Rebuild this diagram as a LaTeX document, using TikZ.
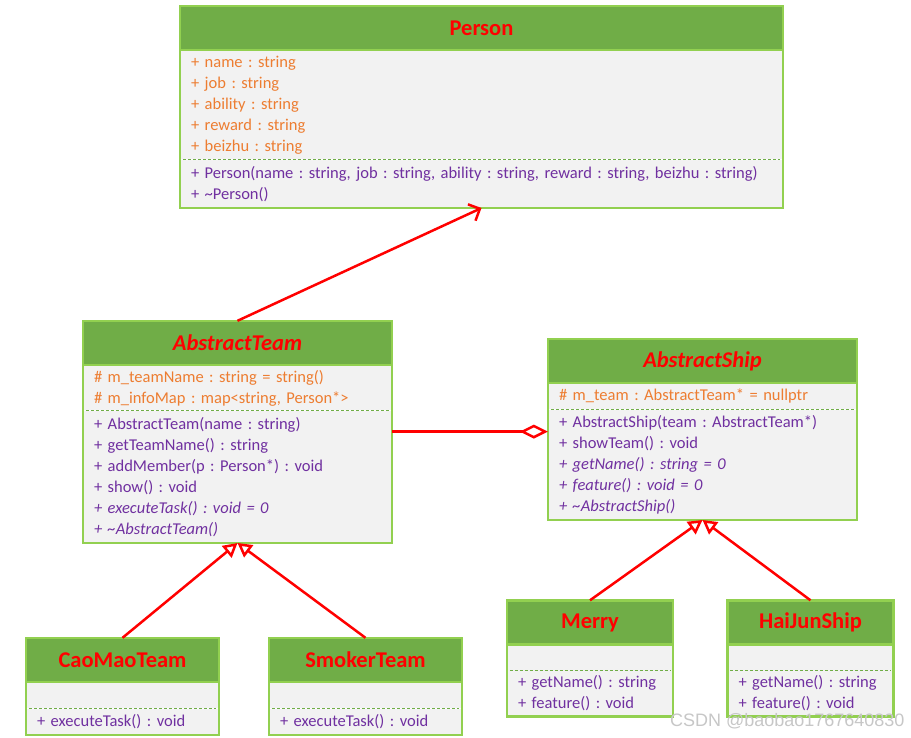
\documentclass[tikz,border=0pt]{standalone}
\usepackage{fontspec}
\setmainfont{Carlito}
\newfontfamily\markfont{Liberation Sans}
\usetikzlibrary{positioning,arrows.meta}
\frenchspacing

\definecolor{headgreen}{HTML}{70AD47}
\definecolor{edgegreen}{HTML}{92D050}
\definecolor{bodygray}{HTML}{F2F2F2}
\definecolor{attrorange}{HTML}{ED7D31}
\definecolor{methpurple}{HTML}{7030A0}
\tikzset{
    cls head/.style={rectangle, fill=headgreen, minimum height=44pt,
                     inner sep=0pt, text=red,
                     font=\fontsize{22.5}{26}\selectfont\bfseries},
    cls abstract/.style={cls head,
                     font=\fontsize{22.5}{26}\selectfont\bfseries\itshape},
    cls attr/.style={rectangle, fill=bodygray, inner xsep=11pt,
                     inner ysep=0pt, align=left, text=attrorange,
                     font=\fontsize{16.5}{21}\selectfont},
    cls meth/.style={cls attr, text=methpurple},
    cls edge/.style={edgegreen, line width=2.5pt},
    cls sep/.style={headgreen, line width=1.2pt, dash pattern=on 3pt off 2pt},
    % Relations
    rel line/.style={red, line width=2.5pt},
    rel assoc/.style={rel line, -{Straight Barb[length=9pt, width=18pt]}},
    rel inherit/.style={rel line, -{Triangle[open, length=14pt, width=15pt]}},
    rel aggr/.style={rel line, {Diamond[open, length=28pt, width=14pt]}-},
}

\begin{document}
\begin{tikzpicture}[x=1pt, y=-1pt]
    \useasboundingbox[fill=white] (0,0) rectangle (911,737);
    % Person
    \node[cls head, minimum width=603pt] (person) at (481.5,28) {Person};
    \node[cls attr, text width=581pt, minimum height=109pt,
          below=0pt of person] (person-attr)
        {+ name : string\\+ job : string\\+ ability : string\\
         + reward : string\\+ beizhu : string};
    \node[cls meth, text width=581pt, minimum height=48pt,
          below=0pt of person-attr] (person-meth)
        {+ Person(name : string, job : string, ability : string, reward : string, beizhu : string)\\
         + \textasciitilde Person()};
    % AbstractTeam
    \node[cls abstract, minimum width=309pt] (team) at (237.5,343) {AbstractTeam};
    \node[cls attr, text width=287pt, minimum height=45pt,
          below=0pt of team] (team-attr)
        {\# m\_teamName : string = string()\\
         \# m\_infoMap : map<string, Person*>};
    \node[cls meth, text width=287pt, minimum height=132pt,
          below=0pt of team-attr] (team-meth)
        {+ AbstractTeam(name : string)\\+ getTeamName() : string\\
         + addMember(p : Person*) : void\\+ show() : void\\
         \textit{+ executeTask() : void = 0}\\
         \textit{+ \textasciitilde AbstractTeam()}};
    % AbstractShip
    \node[cls abstract, minimum width=309pt] (ship) at (702.5,361) {AbstractShip};
    \node[cls attr, text width=287pt, minimum height=26pt,
          below=0pt of ship] (ship-attr)
        {\# m\_team : AbstractTeam* = nullptr};
    \node[cls meth, text width=287pt, minimum height=110pt,
          below=0pt of ship-attr] (ship-meth)
        {+ AbstractShip(team : AbstractTeam*)\\+ showTeam() : void\\
         \textit{+ getName() : string = 0}\\
         \textit{+ feature() : void = 0}\\
         \textit{+ \textasciitilde AbstractShip()}};
    % CaoMaoTeam and SmokerTeam
    \node[cls head, minimum width=193pt] (caomao) at (122.5,660) {CaoMaoTeam};
    \node[cls attr, text width=171pt, minimum height=26pt,
          below=0pt of caomao] (caomao-attr) {};
    \node[cls meth, text width=171pt, minimum height=26pt,
          below=0pt of caomao-attr] (caomao-meth) {+ executeTask() : void};
    \node[cls head, minimum width=193pt] (smoker) at (365.5,660) {SmokerTeam};
    \node[cls attr, text width=171pt, minimum height=26pt,
          below=0pt of smoker] (smoker-attr) {};
    \node[cls meth, text width=171pt, minimum height=26pt,
          below=0pt of smoker-attr] (smoker-meth) {+ executeTask() : void};
    % Merry and HaiJunShip
    \node[cls head, minimum width=166pt] (merry) at (590,622.5) {Merry};
    \node[cls attr, text width=144pt, minimum height=25pt,
          below=0pt of merry] (merry-attr) {};
    \node[cls meth, text width=144pt, minimum height=46pt,
          below=0pt of merry-attr] (merry-meth)
        {+ getName() : string\\+ feature() : void};
    \node[cls head, minimum width=166pt] (haijun) at (810.5,622.5) {HaiJunShip};
    \node[cls attr, text width=144pt, minimum height=25pt,
          below=0pt of haijun] (haijun-attr) {};
    \node[cls meth, text width=144pt, minimum height=46pt,
          below=0pt of haijun-attr] (haijun-meth)
        {+ getName() : string\\+ feature() : void};
    % Borders and separators
    \foreach \c in {person, team, ship, caomao, smoker, merry, haijun} {
        \draw[cls sep] ([xshift=3pt]\c-attr.south west) -- ([xshift=-3pt]\c-attr.south east);
        \draw[cls edge] (\c.south west) -- (\c.south east);
        \draw[cls edge] (\c.north west) rectangle (\c-meth.south east);
    }
    % Relations
    \draw[rel assoc] (team.north) -- (person-meth.south);
    \draw[rel aggr] ([yshift=-22pt]ship-meth.north west)
        -- ([yshift=-21pt]team-meth.north east);
    \draw[rel inherit] (caomao.north) -- (team-meth.south);
    \draw[rel inherit] (smoker.north) -- (team-meth.south);
    \draw[rel inherit] (merry.north) -- (ship-meth.south);
    \draw[rel inherit] (haijun.north) -- (ship-meth.south);
    % Mark
    \node[font=\markfont\fontsize{18}{20}\selectfont, text=black!22,
          anchor=east] (mark) at (908,721) {CSDN @baobao1767640830};
\end{tikzpicture}
\end{document}
